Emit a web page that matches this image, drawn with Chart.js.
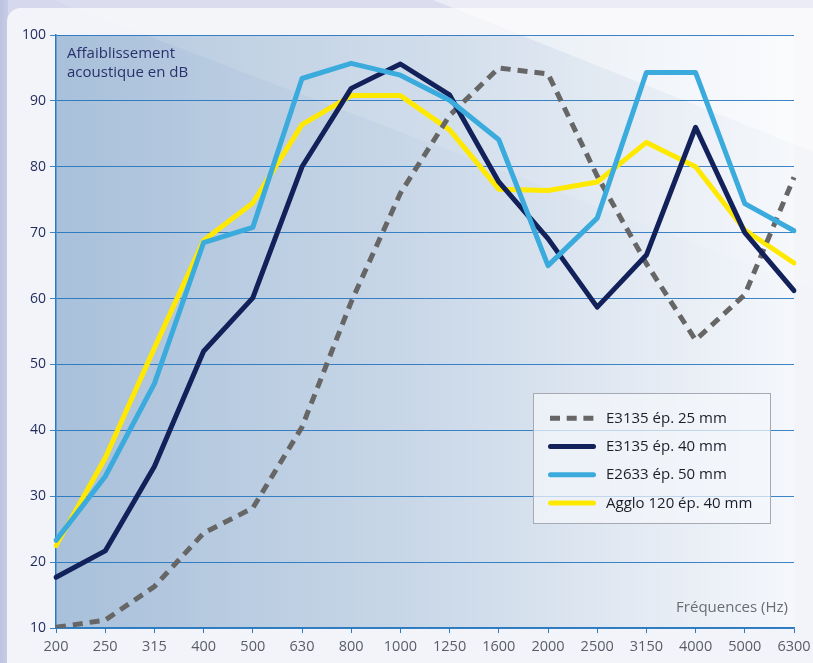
<!DOCTYPE html>
<html>
<head>
<meta charset="utf-8">
<script src="https://cdn.jsdelivr.net/npm/chart.js@4/dist/chart.umd.min.js"></script>
<style>
html,body{margin:0;padding:0;background:#f3f4f9;overflow:hidden;}
canvas{display:block;}
</style>
</head>
<body>
<canvas id="c" width="813" height="663"></canvas>
<script>
// ---- data ----
const frequencies = ['200','250','315','400','500','630','800','1000','1250','1600','2000','2500','3150','4000','5000','6300'];
const yTickValues = [10,20,30,40,50,60,70,80,90,100];
const seriesNames = ['E3135 ép. 25 mm','E3135 ép. 40 mm','E2633 ép. 50 mm','Agglo 120 ép. 40 mm'];
const e3135_25mm = [10.1, 11.2, 16.3, 24.4, 28.2, 40.5, 59.5, 76.0, 87.8, 95.0, 94.1, 78.6, 65.3, 53.7, 60.6, 78.4];
const e3135_40mm = [17.7, 21.7, 34.5, 52.0, 60.1, 80.0, 91.9, 95.6, 90.9, 77.7, 69.1, 58.7, 66.6, 86.0, 70.0, 61.2];
const e2633_50mm = [23.3, 33.0, 47.1, 68.5, 70.8, 93.4, 95.7, 93.9, 90.1, 84.1, 65.0, 72.2, 94.3, 94.3, 74.4, 70.3];
const agglo120_40mm = [22.5, 35.8, 52.5, 68.8, 74.5, 86.4, 90.8, 90.8, 85.6, 76.6, 76.4, 77.7, 83.7, 80.0, 70.4, 65.4];
const yTitleLines = ['Affaiblissement','acoustique en dB'];
const xTitle = 'Fréquences (Hz)';

const FONT = "'Open Sans', 'DejaVu Sans', sans-serif";

const backgroundPlugin = {
  id: 'bg',
  beforeDraw(chart) {
    const ctx = chart.ctx, a = chart.chartArea;
    const W = chart.width, H = chart.height;
    ctx.save();
    ctx.fillStyle = '#d6d9ed';
    ctx.fillRect(0, 0, W, H);
    const lg = ctx.createLinearGradient(0, 0, 8, 0);
    lg.addColorStop(0, '#bcc3df');
    lg.addColorStop(1, '#c8cde6');
    ctx.fillStyle = lg;
    ctx.fillRect(0, 0, 8, H);
    ctx.fillStyle = '#f3f4f9';
    ctx.beginPath();
    ctx.roundRect(7, 8, W, H, [14, 0, 0, 0]);
    ctx.fill();
    const g = ctx.createLinearGradient(a.left, 0, a.right, 0);
    g.addColorStop(0, '#a8c0da');
    g.addColorStop(0.5, '#cad8e8');
    g.addColorStop(1, '#f5f7fb');
    ctx.fillStyle = g;
    ctx.fillRect(a.left, a.top, a.right - a.left, a.bottom - a.top);
    ctx.fillStyle = 'rgba(255,255,255,0.12)';
    ctx.beginPath();
    ctx.moveTo(53, 0); ctx.lineTo(W, 0); ctx.lineTo(W, 0.38 * (W - 53)); ctx.closePath();
    ctx.fill();
    ctx.fillStyle = 'rgba(255,255,255,0.45)';
    ctx.beginPath();
    ctx.moveTo(433, 0); ctx.lineTo(W, 0); ctx.lineTo(W, 0.4 * (W - 433)); ctx.closePath();
    ctx.fill();
    ctx.restore();
  }
};

const overlayPlugin = {
  id: 'overlay',
  afterDraw(chart) {
    const ctx = chart.ctx, a = chart.chartArea;
    ctx.save();
    ctx.font = '15px ' + FONT;
    ctx.fillStyle = '#28316b';
    ctx.textAlign = 'left';
    ctx.textBaseline = 'alphabetic';
    ctx.fillText(yTitleLines[0], a.left + 11, 58);
    ctx.fillText(yTitleLines[1], a.left + 11, 77);
    ctx.fillStyle = '#6b6c72';
    ctx.textAlign = 'right';
    ctx.textBaseline = 'middle';
    ctx.fillText(xTitle, a.right - 6, 608);

    const bx = 533.5, by = 393.5, bw = 237, bh = 130;
    ctx.fillStyle = 'rgba(244,246,251,0.72)';
    ctx.fillRect(bx, by, bw, bh);
    ctx.strokeStyle = '#a7aab3';
    ctx.lineWidth = 1;
    ctx.strokeRect(bx, by, bw, bh);
    chart.data.datasets.forEach((ds, i) => {
      const y = 418.3 + i * 28.2;
      ctx.save();
      ctx.strokeStyle = ds.borderColor;
      ctx.lineWidth = ds.borderWidth;
      if (ds.borderDash && ds.borderDash.length) {
        ctx.setLineDash([10, 6.7]);
        ctx.lineCap = 'butt';
        ctx.beginPath(); ctx.moveTo(550, y); ctx.lineTo(594, y); ctx.stroke();
      } else {
        ctx.lineCap = 'round';
        ctx.beginPath(); ctx.moveTo(550.5, y); ctx.lineTo(593.5, y); ctx.stroke();
      }
      ctx.restore();
      ctx.font = '15px ' + FONT;
      ctx.fillStyle = '#1d1d2b';
      ctx.textAlign = 'left';
      ctx.textBaseline = 'middle';
      ctx.fillText(ds.label, 606, y + 0.5);
    });
    ctx.restore();
  }
};

const GRID = 'rgba(28,112,188,0.85)';

new Chart(document.getElementById('c'), {
  type: 'line',
  data: {
    labels: frequencies,
    datasets: [
      { label: seriesNames[0], data: e3135_25mm, borderColor: '#666666', borderWidth: 5,
        borderDash: [10, 7], borderCapStyle: 'butt', borderJoinStyle: 'miter', order: 2 },
      { label: seriesNames[1], data: e3135_40mm, borderColor: '#13215a', borderWidth: 5,
        borderCapStyle: 'round', borderJoinStyle: 'round', order: 1 },
      { label: seriesNames[2], data: e2633_50mm, borderColor: '#3aabdc', borderWidth: 5,
        borderCapStyle: 'round', borderJoinStyle: 'round', order: 0 },
      { label: seriesNames[3], data: agglo120_40mm, borderColor: '#ffe900', borderWidth: 5,
        borderCapStyle: 'round', borderJoinStyle: 'round', order: 3 }
    ]
  },
  options: {
    responsive: false,
    animation: false,
    devicePixelRatio: 1,
    layout: { padding: { top: 35, right: 19, left: 0, bottom: 0 } },
    elements: { point: { radius: 0, hoverRadius: 0 }, line: { tension: 0, fill: false } },
    plugins: { legend: { display: false }, tooltip: { enabled: false } },
    events: [],
    scales: {
      x: {
        type: 'category',
        offset: false,
        grid: { drawOnChartArea: false, drawTicks: true, tickLength: 5, color: '#2a7bbf', lineWidth: 1 },
        border: { display: true, color: '#2a7bbf', width: 1.5 },
        ticks: { color: '#5a5d68', font: { family: FONT, size: 14.5 }, padding: 5, maxRotation: 0, autoSkip: false },
        afterFit(s) { s.height = 35; s.paddingLeft = 0; s.paddingRight = 0; }
      },
      y: {
        min: 10, max: 100,
        z: 1,
        afterBuildTicks(s) { s.ticks = yTickValues.map(v => ({ value: v })); },
        ticks: { color: '#1e2a5c', font: { family: FONT, size: 14 }, padding: 4 },
        grid: { color: GRID, lineWidth: 1, tickLength: 6 },
        border: { display: true, color: '#2a7bbf', width: 1.5 },
        afterFit(s) { s.width = 56; s.paddingTop = 0; s.paddingBottom = 0; }
      }
    }
  },
  plugins: [backgroundPlugin, overlayPlugin]
});
</script>
</body>
</html>
